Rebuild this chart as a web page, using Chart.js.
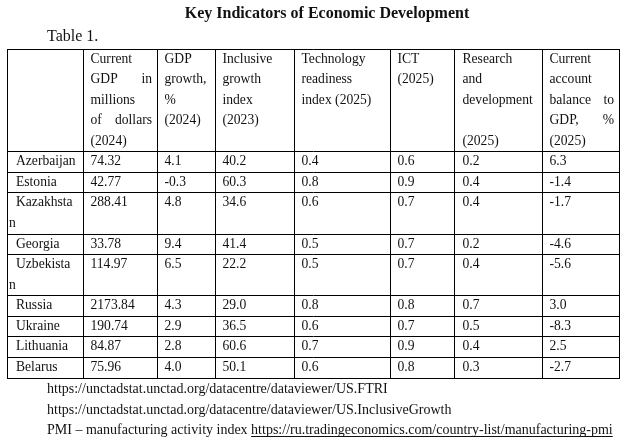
<!DOCTYPE html>
<html>
<head>
<meta charset="utf-8">
<script src="https://cdn.jsdelivr.net/npm/chart.js@4.4.1/dist/chart.umd.min.js"></script>
<style>
  html, body { margin: 0; padding: 0; background: #fff; }
  #wrap { width: 626px; height: 443px; position: relative; }
</style>
</head>
<body>
<div id="wrap"><canvas id="c" width="626" height="443"></canvas></div>
<script>
// ---------- DATA ----------
const titleText = 'Key Indicators of Economic Development';
const tableLabel = 'Table 1.';
const countries = ['Azerbaijan', 'Estonia', 'Kazakhstan', 'Georgia', 'Uzbekistan', 'Russia', 'Ukraine', 'Lithuania', 'Belarus'];
// how the country names wrap in the first column
const countryLines = [['Azerbaijan'], ['Estonia'], ['Kazakhsta', 'n'], ['Georgia'], ['Uzbekista', 'n'], ['Russia'], ['Ukraine'], ['Lithuania'], ['Belarus']];

// header lines per column; an inner array = justified line (words spread over cell width)
const headerLines = [
  ['Current', ['GDP', 'in'], 'millions', ['of', 'dollars'], '(2024)'],
  ['GDP', 'growth,', '%', '(2024)'],
  ['Inclusive', 'growth', 'index', '(2023)'],
  ['Technology', 'readiness', 'index (2025)'],
  ['ICT', '(2025)'],
  ['Research', 'and', 'development', '', '(2025)'],
  ['Current', 'account', ['balance', 'to'], ['GDP,', '%'], '(2025)']
];

const gdpCurrent   = [74.32, 42.77, 288.41, 33.78, 114.97, 2173.84, 190.74, 84.87, 75.96];
const gdpGrowth    = [4.1, -0.3, 4.8, 9.4, 6.5, 4.3, 2.9, 2.8, 4.0];
const inclusiveIdx = [40.2, 60.3, 34.6, 41.4, 22.2, 29.0, 36.5, 60.6, 50.1];
const techReady    = [0.4, 0.8, 0.6, 0.5, 0.5, 0.8, 0.6, 0.7, 0.6];
const ictIdx       = [0.6, 0.9, 0.7, 0.7, 0.7, 0.8, 0.7, 0.9, 0.8];
const researchDev  = [0.2, 0.4, 0.4, 0.2, 0.4, 0.7, 0.5, 0.4, 0.3];
const currAccount  = [6.3, -1.4, -1.7, -4.6, -5.6, 3.0, -8.3, 2.5, -2.7];
const decimals     = [2, 1, 1, 1, 1, 1, 1];

const footnotes = [
  { text: 'https://unctadstat.unctad.org/datacentre/dataviewer/US.FTRI' },
  { text: 'https://unctadstat.unctad.org/datacentre/dataviewer/US.InclusiveGrowth' },
  { text: 'PMI \u2013 manufacturing activity index ', link: 'https://ru.tradingeconomics.com/country-list/manufacturing-pmi' }
];

// ---------- LAYOUT (not data) ----------
const colEdges = [0, 76, 150, 208, 287, 383, 448, 535, 612];   // x-scale units
const headerRowLines = 5;
const baseFrac = 0.657;     // baseline position inside a text line
const padX = 7.5;
const FONT = "'Liberation Serif', 'Times New Roman', serif";
const INK = '#111';

const indicators = [gdpCurrent, gdpGrowth, inclusiveIdx, techReady, ictIdx, researchDev, currAccount];

// row boundaries in "line" units
const rowStarts = [];
let acc = headerRowLines;
countryLines.forEach(l => { rowStarts.push(acc); acc += l.length; });
const totalLines = acc;
const yBounds = [0, headerRowLines].concat(rowStarts.slice(1), [totalLines]);

const datasets = indicators.map((arr, k) => ({
  label: headerLines[k].map(l => Array.isArray(l) ? l.join(' ') : l).join(' '),
  data: arr.map((v, i) => ({ x: colEdges[k + 1], y: rowStarts[i] + baseFrac, v: v })),
  decimals: decimals[k],
  pointRadius: 0,
  pointHoverRadius: 0,
  showLine: false
}));

const tablePlugin = {
  id: 'tablePlugin',
  afterDraw(chart) {
    const ctx = chart.ctx;
    const xs = chart.scales.x, ys = chart.scales.y;
    ctx.save();
    ctx.fillStyle = INK;
    ctx.textBaseline = 'alphabetic';

    // title
    ctx.font = 'bold 16px ' + FONT;
    ctx.textAlign = 'center';
    ctx.fillText(titleText, 327, 18);
    ctx.textAlign = 'left';
    ctx.font = '16px ' + FONT;
    ctx.fillText(tableLabel, 47, 41);

    ctx.font = '13.6px ' + FONT;
    // header cells
    headerLines.forEach((lines, k) => {
      const x0 = xs.getPixelForValue(colEdges[k + 1]) + padX;
      const x1 = xs.getPixelForValue(colEdges[k + 2]) - 5;
      lines.forEach((ln, j) => {
        const y = ys.getPixelForValue(j + baseFrac);
        if (Array.isArray(ln)) {
          ctx.textAlign = 'left';
          ctx.fillText(ln[0], x0, y);
          ctx.textAlign = 'right';
          ctx.fillText(ln[ln.length - 1], x1, y);
          ctx.textAlign = 'left';
        } else {
          ctx.fillText(ln, x0, y);
        }
      });
    });
    // country column
    countryLines.forEach((lines, i) => {
      lines.forEach((ln, j) => {
        const x = xs.getPixelForValue(colEdges[0]) + (j === 0 ? 9 : 2);
        const y = ys.getPixelForValue(rowStarts[i] + j + baseFrac);
        ctx.fillText(ln, x, y);
      });
    });
    // value cells, from dataset elements
    chart.data.datasets.forEach((ds, k) => {
      const meta = chart.getDatasetMeta(k);
      meta.data.forEach((el, i) => {
        const v = ds.data[i].v;
        ctx.fillText(v.toFixed(ds.decimals), el.x + padX, el.y);
      });
    });

    // footnotes
    ctx.font = '14px ' + FONT;
    footnotes.forEach((f, i) => {
      const y = 393 + i * 20.5;
      ctx.fillText(f.text, 47, y);
      if (f.link) {
        const w = ctx.measureText(f.text).width;
        const lx = 47 + w;
        ctx.fillText(f.link, lx, y);
        const lw = ctx.measureText(f.link).width;
        ctx.fillRect(lx, y + 2, lw, 1);
      }
    });
    ctx.restore();
  }
};

new Chart(document.getElementById('c'), {
  type: 'scatter',
  data: { datasets: datasets },
  options: {
    responsive: false,
    animation: false,
    devicePixelRatio: 1,
    layout: { padding: { left: 7, right: 7, top: 49, bottom: 65 } },
    plugins: { legend: { display: false }, tooltip: { enabled: false }, title: { display: false } },
    scales: {
      x: {
        type: 'linear', min: colEdges[0], max: colEdges[colEdges.length - 1],
        afterBuildTicks: s => { s.ticks = colEdges.map(v => ({ value: v })); },
        ticks: { display: false },
        grid: { color: '#000', lineWidth: 1, drawTicks: false, tickLength: 0 },
        border: { display: true, color: '#000', width: 1 }
      },
      y: {
        type: 'linear', min: 0, max: totalLines, reverse: true,
        afterBuildTicks: s => { s.ticks = yBounds.map(v => ({ value: v })); },
        ticks: { display: false },
        grid: { color: '#000', lineWidth: 1, drawTicks: false, tickLength: 0 },
        border: { display: true, color: '#000', width: 1 }
      }
    }
  },
  plugins: [tablePlugin]
});
</script>
</body>
</html>
